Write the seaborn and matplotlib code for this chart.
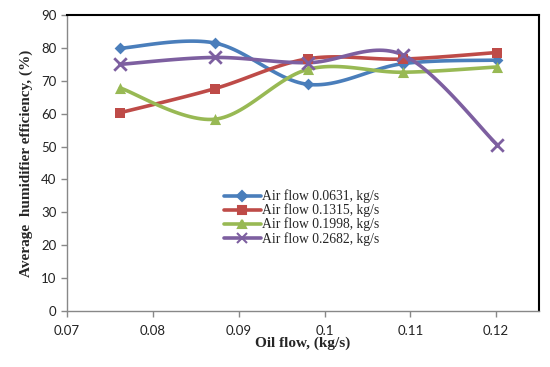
import matplotlib
matplotlib.use('Agg')

import matplotlib.pyplot as plt
import seaborn as sns
import numpy as np
import pandas as pd

# datos
oil_flow = [0.0762, 0.0872, 0.0981, 0.1091, 0.1201]
series_names = ['Air flow 0.0631, kg/s', 'Air flow 0.1315, kg/s',
                'Air flow 0.1998, kg/s', 'Air flow 0.2682, kg/s']
eff_0631 = [79.9, 81.5, 68.9, 75.2, 76.3]
eff_1315 = [60.3, 67.6, 76.7, 76.6, 78.6]
eff_1998 = [67.8, 58.3, 73.5, 72.6, 74.2]
eff_2682 = [75.0, 77.1, 75.5, 77.9, 50.6]
x_ticks = [0.07, 0.08, 0.09, 0.1, 0.11, 0.12]
y_ticks = [0, 10, 20, 30, 40, 50, 60, 70, 80, 90]

colors = ['#4A7EBB', '#BE4B48', '#98B954', '#7D5FA0']
markers = ['D', 's', '^', 'x']
msizes = [6, 7, 8, 9]


def suavizar(x, y, n=30):
    # curva tipo Excel (bezier con puntos de control catmull-rom)
    p = np.column_stack([x, y])
    sx = (max(x) - min(x))
    sy = (max(y) - min(y)) if max(y) != min(y) else 1
    q = p / [sx, sy]
    out = []
    for i in range(len(q) - 1):
        p0 = q[i - 1] if i > 0 else q[i]
        p1, p2 = q[i], q[i + 1]
        p3 = q[i + 2] if i + 2 < len(q) else q[i + 1]
        c1 = p1 + (p2 - p0) / 6
        c2 = p2 - (p3 - p1) / 6
        t = np.linspace(0, 1, n)[:, None]
        seg = (1 - t) ** 3 * p1 + 3 * (1 - t) ** 2 * t * c1 + 3 * (1 - t) * t ** 2 * c2 + t ** 3 * p2
        out.append(seg if i == 0 else seg[1:])
    out = np.vstack(out) * [sx, sy]
    return out[:, 0], out[:, 1]


sns.set_style('white')
plt.rcParams['font.family'] = ['Lato', 'DejaVu Sans']

fig = plt.figure(figsize=(5.5, 3.67), dpi=100)
ax = fig.add_axes([0.122, 0.153, 0.858, 0.806])

all_series = [eff_0631, eff_1315, eff_1998, eff_2682]
for name, vals, c, m, ms in zip(series_names, all_series, colors, markers, msizes):
    xs, ys = suavizar(oil_flow, vals)
    df_curve = pd.DataFrame({'x': xs, 'y': ys})
    sns.lineplot(data=df_curve, x='x', y='y', ax=ax, color=c, lw=2.6, sort=False,
                 estimator=None)
    df_pts = pd.DataFrame({'x': oil_flow, 'y': vals})
    sns.scatterplot(data=df_pts, x='x', y='y', ax=ax, color=c, marker=m, s=ms ** 2,
                    linewidth=2 if m == 'x' else 0, zorder=3)
    ax.plot([], [], color=c, lw=2.6, marker=m, ms=ms * 0.8, mew=1.5, label=name)

ax.set_xlim(0.07, 0.125)
ax.set_ylim(0, 90)
ax.set_xticks(x_ticks)
ax.set_xticklabels(['0.07', '0.08', '0.09', '0.1', '0.11', '0.12'])
ax.set_yticks(y_ticks)
ax.tick_params(axis='both', direction='out', length=4, width=1, color='#888888',
               labelsize=9.5, colors='#222222', bottom=True, left=True)
ax.tick_params(axis='x', pad=6)

for s in ['left', 'bottom']:
    ax.spines[s].set_color('#888888')
    ax.spines[s].set_linewidth(1)
for s in ['top', 'right']:
    ax.spines[s].set_color('black')
    ax.spines[s].set_linewidth(1.5)

serif = ['Liberation Serif', 'DejaVu Serif']
ax.set_xlabel('Oil flow, (kg/s)', fontsize=11, fontweight='bold', family=serif, labelpad=0)
ax.set_ylabel('Average  humidifier efficiency, (%)', fontsize=11, fontweight='bold',
              family=serif, labelpad=6)

leg = ax.legend(loc='upper left', bbox_to_anchor=(0.318, 0.433), frameon=False,
                prop={'family': serif, 'size': 9.8}, handlelength=2.7,
                handletextpad=0.1, labelspacing=0.02, borderpad=0)

fig.savefig('out.png', dpi=100)
